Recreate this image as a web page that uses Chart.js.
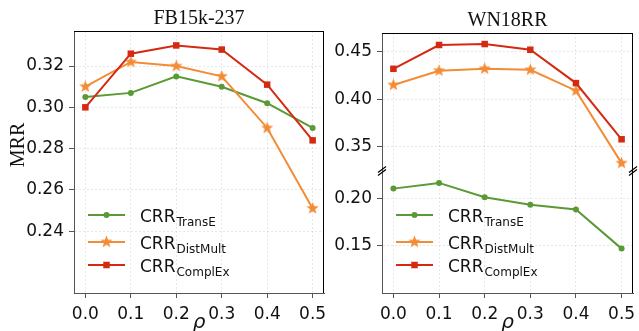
<!DOCTYPE html>
<html>
<head>
<meta charset="utf-8">
<script src="https://cdn.jsdelivr.net/npm/chart.js@4.4.0/dist/chart.umd.min.js"></script>
<style>
body{margin:0;background:#fff}
#wrap{position:relative;width:639px;height:331px;overflow:hidden}
#wrap div{position:absolute;top:0;height:331px}
</style>
</head>
<body>
<div id="wrap">
<div style="left:0;width:330px"><canvas id="fb" width="330" height="331"></canvas></div>
<div style="left:330px;width:309px"><canvas id="wn" width="309" height="331"></canvas></div>
</div>
<script>
const rho = [0.0, 0.1, 0.2, 0.3, 0.4, 0.5]
const models = ["TransE", "DistMult", "ComplEx"]

const fbTransE = [0.305, 0.307, 0.315, 0.310, 0.302, 0.290]
const fbDistMult = [0.310, 0.322, 0.320, 0.315, 0.290, 0.251]
const fbComplEx = [0.300, 0.326, 0.330, 0.328, 0.311, 0.284]

const wnTransE = [0.210, 0.216, 0.201, 0.193, 0.188, 0.147]
const wnDistMult = [0.415, 0.430, 0.432, 0.431, 0.409, 0.333]
const wnComplEx = [0.432, 0.457, 0.458, 0.452, 0.417, 0.358]

const fbTicks = [0.24, 0.26, 0.28, 0.30, 0.32]
const wnLowTicks = [0.15, 0.20]
const wnHighTicks = [0.35, 0.40, 0.45]

const colors = ["#5a9a36", "#f28c36", "#d42a12"]
const spine = "#555"
const gridColor = "rgba(0,0,0,0.09)"
const tickFont = {family: "DejaVu Sans", size: 17}

// filled 5 point star like matplotlib '*'
function starImg(color, r) {
  const c = document.createElement("canvas")
  c.width = c.height = 2 * r + 2
  const g = c.getContext("2d")
  g.fillStyle = color
  g.beginPath()
  for (let i = 0; i < 10; i++) {
    const a = -Math.PI / 2 + i * Math.PI / 5
    const rr = i % 2 ? r * 0.42 : r
    g.lineTo(r + 1 + rr * Math.cos(a), r + 1 + rr * Math.sin(a))
  }
  g.closePath()
  g.fill()
  return c
}

const styles = ["circle", starImg(colors[1], 6.5), "rect"]
const radii = [3, 6, 4.6]

function series(i, vals, axis) {
  return {
    label: "CRR " + models[i],
    sub: models[i],
    data: rho.map((x, k) => ({x: x, y: vals[k]})),
    borderColor: colors[i],
    backgroundColor: colors[i],
    pointStyle: styles[i],
    pointRadius: radii[i],
    pointBorderWidth: 0,
    borderWidth: 2,
    order: 2 - i,
    yAxisID: axis
  }
}

function xScale() {
  return {
    type: "linear", min: -0.025, max: 0.525,
    afterBuildTicks: s => { s.ticks = rho.map(v => ({value: v})) },
    afterFit: s => { s.height = 38; s.paddingLeft = 0; s.paddingRight = 0 },
    ticks: {font: tickFont, color: "#111", padding: 6, maxRotation: 0, autoSkip: false, callback: v => v.toFixed(1)},
    grid: {color: gridColor, tickColor: spine, tickLength: 5, tickBorderDash: []},
    border: {color: spine, dash: [2, 2]}
  }
}

function yScale(min, max, ticks, width, extra) {
  return Object.assign({
    type: "linear", position: "left", min: min, max: max,
    afterBuildTicks: s => { s.ticks = ticks.map(v => ({value: v})) },
    afterFit: s => { s.width = width; s.paddingTop = 0; s.paddingBottom = 0 },
    ticks: {font: tickFont, color: "#111", padding: 5, callback: v => v.toFixed(2)},
    grid: {color: gridColor, tickColor: spine, tickLength: 5, tickBorderDash: []},
    border: {color: spine, dash: [2, 2]}
  }, extra)
}

const legendRows = [78, 51, 28]

function panelPlugin(title, titleY, ylabel, breakAxis) {
  return {
    id: "panel",
    afterDatasetsDraw(chart) {
      const ctx = chart.ctx, a = chart.chartArea
      ctx.save()
      // legend
      chart.data.datasets.forEach((d, i) => {
        const y = a.bottom - legendRows[i]
        const x0 = a.left + 14
        ctx.strokeStyle = d.borderColor
        ctx.fillStyle = d.borderColor
        ctx.lineWidth = 2
        ctx.beginPath()
        ctx.moveTo(x0, y)
        ctx.lineTo(x0 + 37, y)
        ctx.stroke()
        Chart.helpers.drawPoint(ctx, {pointStyle: d.pointStyle, radius: d.pointRadius, rotation: 0, borderWidth: 0}, x0 + 18.5, y)
        ctx.fillStyle = "#111"
        ctx.textBaseline = "alphabetic"
        ctx.textAlign = "left"
        ctx.font = "17px 'DejaVu Sans'"
        const tx = a.left + 66
        ctx.fillText("CRR", tx, y + 6.5)
        const w = ctx.measureText("CRR").width
        ctx.font = "12px 'DejaVu Sans'"
        ctx.fillText(d.sub, tx + w + 1, y + 11)
      })
      ctx.restore()
    },
    afterDraw(chart) {
      const ctx = chart.ctx, a = chart.chartArea
      ctx.save()
      ctx.strokeStyle = "#000"
      ctx.lineWidth = 1
      ctx.beginPath()
      ctx.moveTo(a.left, Math.round(a.top) + 0.5)
      ctx.lineTo(a.right, Math.round(a.top) + 0.5)
      ctx.moveTo(Math.round(a.right) - 0.5, a.top)
      ctx.lineTo(Math.round(a.right) - 0.5, a.bottom)
      ctx.stroke()
      if (breakAxis) {
        const yb = chart.scales[breakAxis].bottom
        ctx.lineWidth = 1.2
        ctx.strokeStyle = "#000"
        ctx.beginPath()
        for (const xb of [a.left, a.right]) {
          for (const dy of [-1.5, 1.5]) {
            ctx.moveTo(xb - 4, yb + 3 + dy)
            ctx.lineTo(xb + 4, yb - 3 + dy)
          }
        }
        ctx.stroke()
      }
      ctx.fillStyle = "#111"
      ctx.textAlign = "center"
      ctx.textBaseline = "middle"
      ctx.font = "20px 'Liberation Serif'"
      ctx.fillText(title, (a.left + a.right) / 2, titleY)
      ctx.textBaseline = "alphabetic"
      ctx.font = "italic 20px 'DejaVu Sans'"
      ctx.fillText("\u03c1", (a.left + a.right) / 2, 328)
      if (ylabel) {
        ctx.translate(24, 145)
        ctx.rotate(-Math.PI / 2)
        ctx.font = "20px 'Liberation Serif'"
        ctx.textBaseline = "alphabetic"
        ctx.fillText(ylabel, 0, 0)
      }
      ctx.restore()
    }
  }
}

new Chart(document.getElementById("fb"), {
  type: "line",
  data: {
    datasets: [
      series(0, fbTransE, "y"),
      series(1, fbDistMult, "y"),
      series(2, fbComplEx, "y")
    ]
  },
  options: {
    responsive: false,
    animation: false,
    layout: {padding: {left: 0, top: 31, right: 3, bottom: 0}},
    plugins: {legend: {display: false}, tooltip: {enabled: false}},
    scales: {
      x: xScale(),
      y: yScale(0.21, 0.337, fbTicks, 74)
    }
  },
  plugins: [panelPlugin("FB15k-237", 19, "MRR")]
})

new Chart(document.getElementById("wn"), {
  type: "line",
  data: {
    datasets: [
      series(0, wnTransE, "yLow"),
      series(1, wnDistMult, "yHigh"),
      series(2, wnComplEx, "yHigh")
    ]
  },
  options: {
    responsive: false,
    animation: false,
    layout: {padding: {left: 0, top: 33, right: 4, bottom: 0}},
    plugins: {legend: {display: false}, tooltip: {enabled: false}},
    scales: {
      x: xScale(),
      yLow: yScale(0.1004, 0.2286, wnLowTicks, 52, {stack: "wn", stackWeight: 0.1282}),
      yHigh: yScale(0.3248, 0.4696, wnHighTicks, 52, {stack: "wn", stackWeight: 0.1448})
    }
  },
  plugins: [panelPlugin("WN18RR", 21, null, "yHigh")]
})
</script>
</body>
</html>
